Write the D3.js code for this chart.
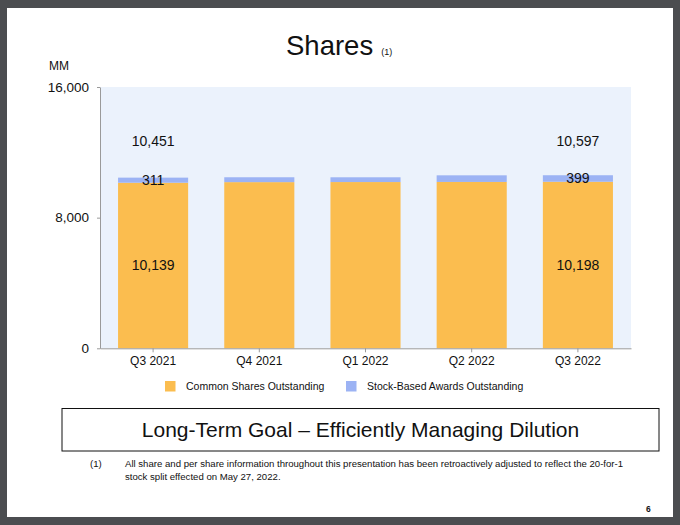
<!DOCTYPE html>
<html>
<head>
<meta charset="utf-8">
<script src="https://cdn.jsdelivr.net/npm/d3@7"></script>
<style>
  body { margin: 0; background: #4b4d50; }
  svg { display: block; font-family: Arial, "Liberation Sans", sans-serif; }
</style>
</head>
<body>
<div class="chart"></div>
<script>
// data (MM shares)
const quarters = ["Q3 2021", "Q4 2021", "Q1 2022", "Q2 2022", "Q3 2022"];
const commonShares = [10139, 10175, 10180, 10187, 10198];
const stockAwards = [311, 298, 292, 405, 399];
const totals = [10451, 10473, 10472, 10592, 10597];
const labelled = ["Q3 2021", "Q3 2022"];
const yTicks = [0, 8000, 16000];
const seriesNames = ["Common Shares Outstanding", "Stock-Based Awards Outstanding"];
const colors = ["#fbbd4f", "#9cb3f4"];

const width = 680, height = 525;
const plot = {left: 100, right: 631, top: 87, bottom: 348.3};
const totalLabelLevel = 12700; // totals sit on one line above the bars

const svg = d3.select(".chart").append("svg")
    .attr("width", width)
    .attr("height", height);

// page on dark frame
svg.append("rect").attr("width", width).attr("height", height).attr("fill", "#4b4d50");
svg.append("rect")
    .attr("x", 7).attr("y", 8).attr("width", 666).attr("height", 509)
    .attr("fill", "#fff");

// title
const title = svg.append("text")
    .attr("x", 286).attr("y", 55)
    .attr("font-size", 27.5)
    .attr("fill", "#111");
title.append("tspan").text("Shares");
title.append("tspan").attr("font-size", 9).attr("dx", 8).text("(1)");

svg.append("text")
    .attr("x", 49).attr("y", 70)
    .attr("font-size", 12)
    .attr("fill", "#111")
    .text("MM");

const x = d3.scaleBand()
    .domain(quarters)
    .range([plot.left, plot.right])
    .paddingInner(0.34)
    .paddingOuter(0.17);

const y = d3.scaleLinear()
    .domain([0, 16000])
    .range([plot.bottom, plot.top]);

svg.append("rect")
    .attr("x", plot.left).attr("y", plot.top)
    .attr("width", plot.right - plot.left)
    .attr("height", plot.bottom - plot.top)
    .attr("fill", "#ebf2fc");

// stacked bars
const rows = quarters.map((q, i) => ({quarter: q, common: commonShares[i], awards: stockAwards[i], total: totals[i]}));
const stack = d3.stack().keys(["common", "awards"])(rows);

svg.append("g")
  .selectAll("g")
  .data(stack)
  .join("g")
    .attr("fill", (d, i) => colors[i])
  .selectAll("rect")
  .data(d => d)
  .join("rect")
    .attr("x", d => x(d.data.quarter))
    .attr("y", d => y(d[1]))
    .attr("width", x.bandwidth())
    .attr("height", d => y(d[0]) - y(d[1]));

// axes
const yAxis = svg.append("g")
    .attr("transform", `translate(${plot.left},0)`)
    .call(d3.axisLeft(y).tickValues(yTicks).tickSize(3).tickSizeOuter(0).tickPadding(8).tickFormat(d3.format(",")));
const xAxis = svg.append("g")
    .attr("transform", `translate(0,${plot.bottom})`)
    .call(d3.axisBottom(x).tickSize(4).tickSizeOuter(0).tickPadding(4));

[yAxis, xAxis].forEach(a => {
  a.select(".domain").attr("stroke", "#9a9a9a");
  a.selectAll(".tick line").attr("stroke", "#9a9a9a");
  a.selectAll("text").attr("fill", "#111").attr("font-family", "Arial, 'Liberation Sans', sans-serif");
});
yAxis.selectAll("text").attr("font-size", 13.5);
xAxis.selectAll("text").attr("font-size", 12);

// value labels on first and last bars
const fmt = d3.format(",");
const lab = svg.append("g")
    .attr("text-anchor", "middle")
    .attr("font-size", 14)
    .attr("fill", "#111");
rows.filter(d => labelled.includes(d.quarter)).forEach(d => {
  const cx = x(d.quarter) + x.bandwidth() / 2;
  lab.append("text").attr("x", cx).attr("y", y(totalLabelLevel)).attr("dy", "0.35em").text(fmt(d.total));
  lab.append("text").attr("x", cx).attr("y", y(d.common + d.awards / 2)).attr("dy", "0.35em").text(fmt(d.awards));
  lab.append("text").attr("x", cx).attr("y", y(d.common / 2)).attr("dy", "0.35em").text(fmt(d.common));
});

// legend
const legendX = [165, 346];
const legend = svg.append("g")
  .selectAll("g")
  .data(seriesNames)
  .join("g")
    .attr("transform", (d, i) => `translate(${legendX[i]},381)`);
legend.append("rect")
    .attr("width", 10.5).attr("height", 10.5)
    .attr("fill", (d, i) => colors[i]);
legend.append("text")
    .attr("x", 21).attr("y", 5.5).attr("dy", "0.35em")
    .attr("font-size", 10.5)
    .attr("fill", "#111")
    .text(d => d);

// goal box
svg.append("rect")
    .attr("x", 62).attr("y", 408.5).attr("width", 597).attr("height", 42.5)
    .attr("fill", "none").attr("stroke", "#111").attr("stroke-width", 1);
svg.append("text")
    .attr("x", 360.5).attr("y", 430).attr("dy", "0.35em")
    .attr("text-anchor", "middle")
    .attr("font-size", 21)
    .attr("fill", "#111")
    .text("Long-Term Goal \u2013 Efficiently Managing Dilution");

// footnote
const note = svg.append("g").attr("font-size", 9.6).attr("fill", "#111");
note.append("text").attr("x", 90).attr("y", 467).text("(1)");
note.append("text").attr("x", 125).attr("y", 467)
    .text("All share and per share information throughout this presentation has been retroactively adjusted to reflect the 20-for-1");
note.append("text").attr("x", 125).attr("y", 480)
    .text("stock split effected on May 27, 2022.");

svg.append("text")
    .attr("x", 646).attr("y", 512)
    .attr("font-size", 8.5).attr("font-weight", "bold")
    .attr("fill", "#111")
    .text("6");
</script>
</body>
</html>
